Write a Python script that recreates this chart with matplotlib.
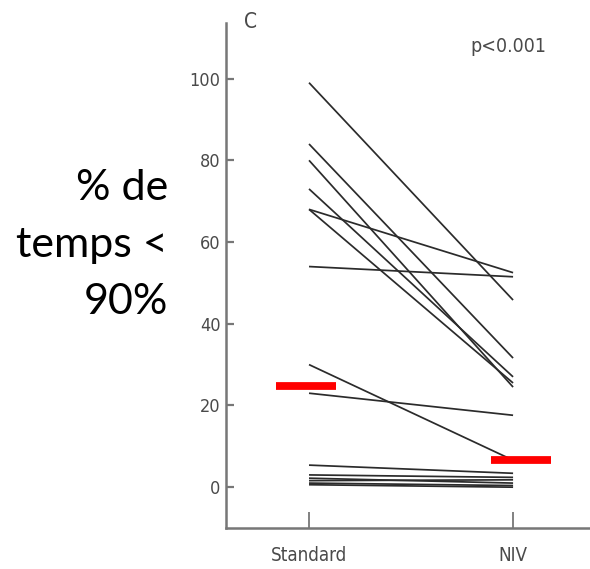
import matplotlib
matplotlib.use('Agg')
import matplotlib.pyplot as plt

# paired values, Standard -> NIV (% of time with SpO2 < 90%)
standard = [99, 84, 80, 73, 68, 68, 54, 30, 23, 5.4, 3.0, 2.2, 1.6, 1.0, 0.6]
niv      = [45.8, 31.6, 24.5, 27.0, 52.5, 25.5, 51.5, 6.6, 17.6, 3.4, 2.4, 1.0, 1.8, 0.4, 0.0]
groups = ['Standard', 'NIV']
means = [24.7, 6.6]
p_text = 'p<0.001'
panel = 'C'
ylab = '% de\ntemps <\n90%'

grey = '#777777'; txt = '#4a4a4a'
cond = dict(family='DejaVu Sans', stretch='condensed')

fig = plt.figure(figsize=(5.9, 5.69), dpi=100)
ax = fig.add_axes([0.383, 0.072, 0.617, 0.8875])

for a, b in zip(standard, niv):
    ax.plot([0, 1], [a, b], color='#2b2b2b', lw=1.25, solid_capstyle='butt')

# mean bars (slightly offset like the original)
offs = [(-0.162, 0.132), (-0.108, 0.186)]
for i, (m, (l, r)) in enumerate(zip(means, offs)):
    ax.plot([i + l, i + r], [m, m], color='#ff0000', lw=5.6, solid_capstyle='butt', zorder=5)

ax.set_xlim(-0.407, 1.377)
ax.set_ylim(-10.0, 113.6)
ax.set_yticks(range(0, 101, 20))
ax.set_xticks([0, 1])
ax.set_xticklabels(groups)
for s in ['top', 'right']:
    ax.spines[s].set_visible(False)
for s in ['left', 'bottom']:
    ax.spines[s].set_color(grey); ax.spines[s].set_linewidth(1.8)
ax.tick_params(axis='y', direction='in', length=6, width=1.6, color=grey, pad=4, labelsize=13, labelcolor=txt)
ax.tick_params(axis='x', direction='in', length=11.5, width=1.3, color=grey, pad=13, labelsize=13.5, labelcolor=txt)
for lab in ax.get_xticklabels() + ax.get_yticklabels():
    lab.set_fontstretch('condensed')

fig.text(251/590, 1 - 22/569, panel, fontsize=15, color=txt, ha='center', va='center', **cond)
fig.text(508/590, 1 - 46/569, p_text, fontsize=14, color=txt, ha='center', va='center', **cond)
fig.text(168/590, 1 - 245/569, ylab, fontsize=31, ha='right', va='center', multialignment='right',
         linespacing=1.62, family=['Lato', 'DejaVu Sans'])

fig.savefig('out.png', dpi=100)
